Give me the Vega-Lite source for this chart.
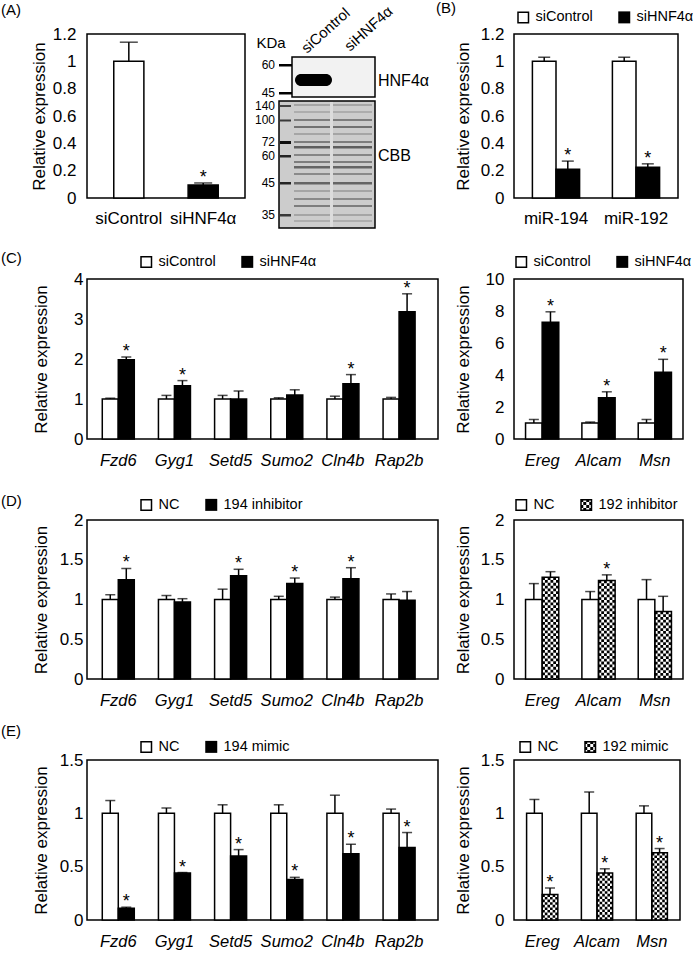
{
"$schema": "https://vega.github.io/schema/vega-lite/v6.json",
"background": "white",
"padding": {"left": 0, "top": 0, "right": 4, "bottom": 4},
"columns": 3,
"align": {"row": "each", "column": "each"},
"bounds": "flush",
"spacing": {"row": 81, "column": 34.5},
"resolve": {"scale": {"fill": "independent", "shape": "independent", "xOffset": "independent"}, "legend": {"fill": "independent", "shape": "independent"}},
"datasets": {
"a": [{"group":"siControl","mean":1,"hi":1.14,"sig":false},{"group":"siHNF4α","mean":0.095,"hi":0.11,"sig":true}],
"b": [{"gene":"miR-194","group":"siControl","mean":1,"hi":1.03,"sig":false},{"gene":"miR-194","group":"siHNF4α","mean":0.21,"hi":0.27,"sig":true},{"gene":"miR-192","group":"siControl","mean":1,"hi":1.03,"sig":false},{"gene":"miR-192","group":"siHNF4α","mean":0.225,"hi":0.25,"sig":true}],
"cL": [
{"gene":"Fzd6","group":"siControl","mean":1,"hi":1.02,"sig":false},{"gene":"Fzd6","group":"siHNF4α","mean":1.98,"hi":2.05,"sig":true},
{"gene":"Gyg1","group":"siControl","mean":1,"hi":1.09,"sig":false},{"gene":"Gyg1","group":"siHNF4α","mean":1.33,"hi":1.46,"sig":true},
{"gene":"Setd5","group":"siControl","mean":1,"hi":1.09,"sig":false},{"gene":"Setd5","group":"siHNF4α","mean":1.0,"hi":1.2,"sig":false},
{"gene":"Sumo2","group":"siControl","mean":1,"hi":1.03,"sig":false},{"gene":"Sumo2","group":"siHNF4α","mean":1.1,"hi":1.23,"sig":false},
{"gene":"Cln4b","group":"siControl","mean":1,"hi":1.07,"sig":false},{"gene":"Cln4b","group":"siHNF4α","mean":1.38,"hi":1.61,"sig":true},
{"gene":"Rap2b","group":"siControl","mean":1,"hi":1.04,"sig":false},{"gene":"Rap2b","group":"siHNF4α","mean":3.18,"hi":3.63,"sig":true}],
"cR": [
{"gene":"Ereg","group":"siControl","mean":1,"hi":1.22,"sig":false},{"gene":"Ereg","group":"siHNF4α","mean":7.3,"hi":7.95,"sig":true},
{"gene":"Alcam","group":"siControl","mean":1,"hi":1.06,"sig":false},{"gene":"Alcam","group":"siHNF4α","mean":2.58,"hi":2.95,"sig":true},
{"gene":"Msn","group":"siControl","mean":1,"hi":1.22,"sig":false},{"gene":"Msn","group":"siHNF4α","mean":4.17,"hi":4.98,"sig":true}],
"dL": [
{"gene":"Fzd6","group":"NC","mean":1,"hi":1.06,"sig":false},{"gene":"Fzd6","group":"194 inhibitor","mean":1.25,"hi":1.39,"sig":true},
{"gene":"Gyg1","group":"NC","mean":1,"hi":1.05,"sig":false},{"gene":"Gyg1","group":"194 inhibitor","mean":0.97,"hi":1.01,"sig":false},
{"gene":"Setd5","group":"NC","mean":1,"hi":1.13,"sig":false},{"gene":"Setd5","group":"194 inhibitor","mean":1.3,"hi":1.38,"sig":true},
{"gene":"Sumo2","group":"NC","mean":1,"hi":1.04,"sig":false},{"gene":"Sumo2","group":"194 inhibitor","mean":1.2,"hi":1.27,"sig":true},
{"gene":"Cln4b","group":"NC","mean":1,"hi":1.03,"sig":false},{"gene":"Cln4b","group":"194 inhibitor","mean":1.26,"hi":1.4,"sig":true},
{"gene":"Rap2b","group":"NC","mean":1,"hi":1.07,"sig":false},{"gene":"Rap2b","group":"194 inhibitor","mean":0.99,"hi":1.1,"sig":false}],
"dR": [
{"gene":"Ereg","group":"NC","mean":1,"hi":1.2,"sig":false},{"gene":"Ereg","group":"192 inhibitor","mean":1.28,"hi":1.35,"sig":false},
{"gene":"Alcam","group":"NC","mean":1,"hi":1.1,"sig":false},{"gene":"Alcam","group":"192 inhibitor","mean":1.24,"hi":1.31,"sig":true},
{"gene":"Msn","group":"NC","mean":1,"hi":1.25,"sig":false},{"gene":"Msn","group":"192 inhibitor","mean":0.85,"hi":1.04,"sig":false}],
"eL": [
{"gene":"Fzd6","group":"NC","mean":1,"hi":1.12,"sig":false},{"gene":"Fzd6","group":"194 mimic","mean":0.11,"hi":0.12,"sig":true},
{"gene":"Gyg1","group":"NC","mean":1,"hi":1.05,"sig":false},{"gene":"Gyg1","group":"194 mimic","mean":0.44,"hi":0.445,"sig":true},
{"gene":"Setd5","group":"NC","mean":1,"hi":1.08,"sig":false},{"gene":"Setd5","group":"194 mimic","mean":0.6,"hi":0.66,"sig":true},
{"gene":"Sumo2","group":"NC","mean":1,"hi":1.08,"sig":false},{"gene":"Sumo2","group":"194 mimic","mean":0.38,"hi":0.4,"sig":true},
{"gene":"Cln4b","group":"NC","mean":1,"hi":1.17,"sig":false},{"gene":"Cln4b","group":"194 mimic","mean":0.62,"hi":0.71,"sig":true},
{"gene":"Rap2b","group":"NC","mean":1,"hi":1.04,"sig":false},{"gene":"Rap2b","group":"194 mimic","mean":0.68,"hi":0.82,"sig":true}],
"eR": [
{"gene":"Ereg","group":"NC","mean":1,"hi":1.13,"sig":false},{"gene":"Ereg","group":"192 mimic","mean":0.24,"hi":0.3,"sig":true},
{"gene":"Alcam","group":"NC","mean":1,"hi":1.2,"sig":false},{"gene":"Alcam","group":"192 mimic","mean":0.44,"hi":0.48,"sig":true},
{"gene":"Msn","group":"NC","mean":1,"hi":1.07,"sig":false},{"gene":"Msn","group":"192 mimic","mean":0.63,"hi":0.67,"sig":true}],
"blotRects": [
{"x0":13,"x1":96,"y0":23,"y1":63,"v":0.0},
{"x0":0,"x1":96,"y0":67,"y1":194,"v":0.14},
{"x0":15,"x1":93,"y0":70.3,"y1":71.8,"v":0.34},
{"x0":15,"x1":93,"y0":77.3,"y1":78.8,"v":0.3},
{"x0":15,"x1":93,"y0":85,"y1":87,"v":0.45},
{"x0":15,"x1":93,"y0":92,"y1":94,"v":0.5},
{"x0":15,"x1":93,"y0":99.3,"y1":100.8,"v":0.34},
{"x0":15,"x1":93,"y0":107,"y1":109,"v":0.45},
{"x0":15,"x1":93,"y0":112,"y1":114.5,"v":0.58},
{"x0":15,"x1":93,"y0":120,"y1":122,"v":0.42},
{"x0":15,"x1":93,"y0":127,"y1":129,"v":0.45},
{"x0":15,"x1":93,"y0":132,"y1":134.5,"v":0.55},
{"x0":15,"x1":93,"y0":139,"y1":141,"v":0.4},
{"x0":15,"x1":93,"y0":148,"y1":150.5,"v":0.55},
{"x0":15,"x1":93,"y0":156.3,"y1":157.8,"v":0.34},
{"x0":15,"x1":93,"y0":164,"y1":166,"v":0.4},
{"x0":15,"x1":93,"y0":171,"y1":173,"v":0.45},
{"x0":15,"x1":93,"y0":180.3,"y1":181.8,"v":0.34},
{"x0":15,"x1":93,"y0":186.3,"y1":187.8,"v":0.3},
{"x0":51,"x1":54,"y0":67,"y1":194,"v":0.08},
{"x0":1,"x1":12,"y0":71,"y1":73,"v":0.7},
{"x0":1,"x1":12,"y0":85.5,"y1":87.5,"v":0.75},
{"x0":1,"x1":12,"y0":107,"y1":110,"v":0.95},
{"x0":1,"x1":12,"y0":121,"y1":123.5,"v":0.85},
{"x0":1,"x1":12,"y0":148,"y1":150.5,"v":0.85},
{"x0":1,"x1":12,"y0":180,"y1":182.5,"v":0.75},
{"x0":0,"x1":13,"y0":30,"y1":32.5,"v":1},
{"x0":0,"x1":13,"y0":58,"y1":60.5,"v":1}],
"blotBand": [{"x0":16,"x1":53,"y0":40,"y1":52}],
"blotFrames": [{"x0":13,"x1":96,"y0":23,"y1":63},{"x0":0,"x1":96,"y0":67,"y1":194}],
"markers": [{"kDa":"60","m":31,"lx":-4},{"kDa":"45","m":59,"lx":-4},{"kDa":"140","m":72,"lx":-4},{"kDa":"100","m":86,"lx":-4},{"kDa":"72","m":108,"lx":-4},{"kDa":"60","m":122,"lx":-4},{"kDa":"45","m":149,"lx":-4},{"kDa":"35","m":181,"lx":-4}],
"blotText": [{"label":"siControl","kind":"lane","lx":28,"ly":20},{"label":"siHNF4α","kind":"lane","lx":71,"ly":18},{"label":"HNF4α","kind":"side","lx":99,"ly":47},{"label":"CBB","kind":"side","lx":99,"ly":122},{"label":"KDa","kind":"unit","lx":-8,"ly":9}]
},
"concat": [
{
 "width": 158, "height": 164,
 "title": {"text": "(A)", "dx": -86, "dy": -3},
 "data": {"name": "a"},
 "layer": [
  {"mark": {"type": "bar", "stroke": "black", "strokeWidth": 1.5},
   "encoding": {
    "x": {"field": "group", "type": "nominal", "sort": null, "title": null, "scale": {"paddingInner": 0.595, "paddingOuter": 0.36}, "axis": {"labelAngle": 0, "labelPadding": 12, "labelFontSize": 17, "labelOverlap": false}},
    "y": {"field": "mean", "type": "quantitative", "title": "Relative expression", "scale": {"domain": [0, 1.2], "nice": false}, "axis": {"values": [0, 0.2, 0.4, 0.6, 0.8, 1, 1.2], "tickCount": 20, "format": "~g", "labelOverlap": false, "labelPadding": 11, "titleX": -48, "titleBaseline": "middle"}},
    "fill": {"field": "group", "type": "nominal", "sort": null, "scale": {"range": ["white", "black"]}, "legend": null}}},
  {"mark": {"type": "rule", "strokeWidth": 1.5, "color": "black"},
   "encoding": {"x": {"field": "group", "type": "nominal", "sort": null, "title": null}, "y": {"field": "mean", "type": "quantitative", "title": "Relative expression"}, "y2": {"field": "hi"}}},
  {"mark": {"type": "tick", "orient": "horizontal", "size": 18, "thickness": 1.5, "color": "black"},
   "encoding": {"x": {"field": "group", "type": "nominal", "sort": null, "title": null}, "y": {"field": "hi", "type": "quantitative", "title": "Relative expression"}}},
  {"transform": [{"filter": "datum.sig"}], "mark": {"type": "text", "text": "*", "fontSize": 18, "baseline": "alphabetic"},
   "encoding": {"x": {"field": "group", "type": "nominal", "sort": null, "title": null}, "y": {"field": "hi", "type": "quantitative", "title": "Relative expression"}}}
 ]
},
{
 "width": 7, "height": 164,
 "view": {"stroke": null},
 "layer": [
  {"data": {"name": "blotRects"}, "mark": {"type": "rect"},
   "encoding": {
    "x": {"field": "x0", "type": "quantitative", "scale": {"domain": [193.5, 200.5], "nice": false, "zero": false}, "axis": null}, "x2": {"field": "x1"},
    "y": {"field": "y0", "type": "quantitative", "scale": {"domain": [0, 164], "nice": false, "zero": false, "reverse": true}, "axis": null}, "y2": {"field": "y1"},
    "fill": {"field": "v", "type": "quantitative", "scale": {"domain": [0, 1], "range": ["#f2f2f2", "#000000"]}, "legend": null}}},
  {"data": {"name": "blotBand"}, "mark": {"type": "rect", "fill": "black", "cornerRadius": 6},
   "encoding": {"x": {"field": "x0", "type": "quantitative"}, "x2": {"field": "x1"}, "y": {"field": "y0", "type": "quantitative"}, "y2": {"field": "y1"}}},
  {"data": {"name": "blotFrames"}, "mark": {"type": "rect", "fillOpacity": 0, "stroke": "black", "strokeWidth": 1.5},
   "encoding": {"x": {"field": "x0", "type": "quantitative"}, "x2": {"field": "x1"}, "y": {"field": "y0", "type": "quantitative"}, "y2": {"field": "y1"}}},
  {"data": {"name": "markers"}, "mark": {"type": "text", "align": "right", "baseline": "middle", "fontSize": 12},
   "encoding": {"x": {"field": "lx", "type": "quantitative"}, "y": {"field": "m", "type": "quantitative"}, "text": {"field": "kDa"}}},
  {"data": {"name": "blotText"}, "transform": [{"filter": "datum.kind === 'lane'"}], "mark": {"type": "text", "align": "left", "baseline": "alphabetic", "angle": 318, "fontSize": 15},
   "encoding": {"x": {"field": "lx", "type": "quantitative"}, "y": {"field": "ly", "type": "quantitative"}, "text": {"field": "label"}}},
  {"data": {"name": "blotText"}, "transform": [{"filter": "datum.kind === 'side'"}], "mark": {"type": "text", "align": "left", "baseline": "middle", "fontSize": 16},
   "encoding": {"x": {"field": "lx", "type": "quantitative"}, "y": {"field": "ly", "type": "quantitative"}, "text": {"field": "label"}}},
  {"data": {"name": "blotText"}, "transform": [{"filter": "datum.kind === 'unit'"}], "mark": {"type": "text", "align": "center", "baseline": "middle", "fontSize": 15},
   "encoding": {"x": {"field": "lx", "type": "quantitative"}, "y": {"field": "ly", "type": "quantitative"}, "text": {"field": "label"}}}
 ]
},
{
 "width": 164, "height": 164,
 "title": {"text": "(B)", "dx": -78, "dy": 10},
 "data": {"name": "b"},
 "layer": [
  {"mark": {"type": "bar", "stroke": "black", "strokeWidth": 1.5},
   "encoding": {
    "x": {"field": "gene", "type": "nominal", "sort": null, "title": null, "scale": {"paddingInner": 0.41, "paddingOuter": 0.23}, "axis": {"labelAngle": 0, "labelPadding": 12, "labelFontSize": 17, "labelOverlap": false}},
    "xOffset": {"field": "group", "type": "nominal", "sort": null, "scale": {"paddingInner": 0, "paddingOuter": 0}},
    "y": {"field": "mean", "type": "quantitative", "title": "Relative expression", "scale": {"domain": [0, 1.2], "nice": false}, "axis": {"values": [0, 0.2, 0.4, 0.6, 0.8, 1, 1.2], "tickCount": 20, "format": "~g", "labelOverlap": false, "labelPadding": 10, "titleX": -51, "titleBaseline": "middle"}},
    "fill": {"field": "group", "type": "nominal", "sort": null, "scale": {"range": ["white", "black"]}, "legend": null}}},
  {"mark": {"type": "rule", "strokeWidth": 1.5, "color": "black"},
   "encoding": {"x": {"field": "gene", "type": "nominal", "sort": null, "title": null}, "xOffset": {"field": "group", "type": "nominal", "sort": null}, "y": {"field": "mean", "type": "quantitative", "title": "Relative expression"}, "y2": {"field": "hi"}}},
  {"mark": {"type": "tick", "orient": "horizontal", "size": 12, "thickness": 1.5, "color": "black"},
   "encoding": {"x": {"field": "gene", "type": "nominal", "sort": null, "title": null}, "xOffset": {"field": "group", "type": "nominal", "sort": null}, "y": {"field": "hi", "type": "quantitative", "title": "Relative expression"}}},
  {"transform": [{"filter": "datum.sig"}], "mark": {"type": "text", "text": "*", "fontSize": 18, "baseline": "alphabetic"},
   "encoding": {"x": {"field": "gene", "type": "nominal", "sort": null, "title": null}, "xOffset": {"field": "group", "type": "nominal", "sort": null}, "y": {"field": "hi", "type": "quantitative", "title": "Relative expression"}}},
  {"mark": {"type": "point", "size": 0, "filled": true, "color": "black"},
   "encoding": {"x": {"field": "gene", "type": "nominal", "sort": null, "title": null}, "xOffset": {"field": "group", "type": "nominal", "sort": null}, "y": {"field": "mean", "type": "quantitative", "title": "Relative expression"},
    "shape": {"field": "group", "type": "nominal", "sort": null, "scale": {"range": ["M-1,-1H1V1H-1Z M-0.75,-0.75V0.75H0.75V-0.75Z", "M-1,-1H1V1H-1Z"]}, "legend": {"title": null, "orient": "none", "direction": "horizontal", "legendX": 2, "legendY": -24, "columnPadding": 24}}}}
 ]
},
{
 "width": 351, "height": 160,
 "title": {"text": "(C)", "dx": -86, "dy": 15},
 "data": {"name": "cL"},
 "layer": [
  {"mark": {"type": "bar", "stroke": "black", "strokeWidth": 1.5},
   "encoding": {
    "x": {"field": "gene", "type": "nominal", "sort": null, "title": null, "scale": {"paddingInner": 0.43, "paddingOuter": 0.34, "align": 0.4}, "axis": {"labelAngle": 0, "labelPadding": 13, "labelFontStyle": "italic", "labelFontSize": 16.5, "labelOverlap": false}},
    "xOffset": {"field": "group", "type": "nominal", "sort": null, "scale": {"paddingInner": 0, "paddingOuter": 0}},
    "y": {"field": "mean", "type": "quantitative", "title": "Relative expression", "scale": {"domain": [0, 4], "nice": false}, "axis": {"values": [0, 1, 2, 3, 4], "tickCount": 20, "format": "~g", "labelOverlap": false, "labelPadding": 4, "titleX": -46, "titleBaseline": "middle"}},
    "fill": {"field": "group", "type": "nominal", "sort": null, "scale": {"range": ["white", "black"]}, "legend": null}}},
  {"mark": {"type": "rule", "strokeWidth": 1.5, "color": "black"},
   "encoding": {"x": {"field": "gene", "type": "nominal", "sort": null, "title": null}, "xOffset": {"field": "group", "type": "nominal", "sort": null}, "y": {"field": "mean", "type": "quantitative", "title": "Relative expression"}, "y2": {"field": "hi"}}},
  {"mark": {"type": "tick", "orient": "horizontal", "size": 10, "thickness": 1.5, "color": "black"},
   "encoding": {"x": {"field": "gene", "type": "nominal", "sort": null, "title": null}, "xOffset": {"field": "group", "type": "nominal", "sort": null}, "y": {"field": "hi", "type": "quantitative", "title": "Relative expression"}}},
  {"transform": [{"filter": "datum.sig"}], "mark": {"type": "text", "text": "*", "fontSize": 18, "baseline": "alphabetic"},
   "encoding": {"x": {"field": "gene", "type": "nominal", "sort": null, "title": null}, "xOffset": {"field": "group", "type": "nominal", "sort": null}, "y": {"field": "hi", "type": "quantitative", "title": "Relative expression"}}},
  {"mark": {"type": "point", "size": 0, "filled": true, "color": "black"},
   "encoding": {"x": {"field": "gene", "type": "nominal", "sort": null, "title": null}, "xOffset": {"field": "group", "type": "nominal", "sort": null}, "y": {"field": "mean", "type": "quantitative", "title": "Relative expression"},
    "shape": {"field": "group", "type": "nominal", "sort": null, "scale": {"range": ["M-1,-1H1V1H-1Z M-0.75,-0.75V0.75H0.75V-0.75Z", "M-1,-1H1V1H-1Z"]}, "legend": {"title": null, "orient": "none", "direction": "horizontal", "legendX": 52, "legendY": -24.5, "columnPadding": 24}}}}
 ]
},
{"width": 7, "height": 1, "view": {"stroke": null}, "data": {"values": [{"d": 0}]}, "mark": {"type": "point", "opacity": 0}, "encoding": {}},
{
 "width": 169, "height": 160,
 "data": {"name": "cR"},
 "layer": [
  {"mark": {"type": "bar", "stroke": "black", "strokeWidth": 1.5},
   "encoding": {
    "x": {"field": "gene", "type": "nominal", "sort": null, "title": null, "scale": {"paddingInner": 0.41, "paddingOuter": 0.205}, "axis": {"labelAngle": 0, "labelPadding": 13, "labelFontStyle": "italic", "labelFontSize": 16.5, "labelOverlap": false}},
    "xOffset": {"field": "group", "type": "nominal", "sort": null, "scale": {"paddingInner": 0, "paddingOuter": 0}},
    "y": {"field": "mean", "type": "quantitative", "title": "Relative expression", "scale": {"domain": [0, 10], "nice": false}, "axis": {"values": [0, 2, 4, 6, 8, 10], "tickCount": 20, "format": "~g", "labelOverlap": false, "labelPadding": 10, "titleX": -51, "titleBaseline": "middle"}},
    "fill": {"field": "group", "type": "nominal", "sort": null, "scale": {"range": ["white", "black"]}, "legend": null}}},
  {"mark": {"type": "rule", "strokeWidth": 1.5, "color": "black"},
   "encoding": {"x": {"field": "gene", "type": "nominal", "sort": null, "title": null}, "xOffset": {"field": "group", "type": "nominal", "sort": null}, "y": {"field": "mean", "type": "quantitative", "title": "Relative expression"}, "y2": {"field": "hi"}}},
  {"mark": {"type": "tick", "orient": "horizontal", "size": 10, "thickness": 1.5, "color": "black"},
   "encoding": {"x": {"field": "gene", "type": "nominal", "sort": null, "title": null}, "xOffset": {"field": "group", "type": "nominal", "sort": null}, "y": {"field": "hi", "type": "quantitative", "title": "Relative expression"}}},
  {"transform": [{"filter": "datum.sig"}], "mark": {"type": "text", "text": "*", "fontSize": 18, "baseline": "alphabetic"},
   "encoding": {"x": {"field": "gene", "type": "nominal", "sort": null, "title": null}, "xOffset": {"field": "group", "type": "nominal", "sort": null}, "y": {"field": "hi", "type": "quantitative", "title": "Relative expression"}}},
  {"mark": {"type": "point", "size": 0, "filled": true, "color": "black"},
   "encoding": {"x": {"field": "gene", "type": "nominal", "sort": null, "title": null}, "xOffset": {"field": "group", "type": "nominal", "sort": null}, "y": {"field": "mean", "type": "quantitative", "title": "Relative expression"},
    "shape": {"field": "group", "type": "nominal", "sort": null, "scale": {"range": ["M-1,-1H1V1H-1Z M-0.75,-0.75V0.75H0.75V-0.75Z", "M-1,-1H1V1H-1Z"]}, "legend": {"title": null, "orient": "none", "direction": "horizontal", "legendX": 0, "legendY": -24.5, "columnPadding": 24}}}}
 ]
},
{
 "width": 351, "height": 159,
 "title": {"text": "(D)", "dx": -86, "dy": 15},
 "data": {"name": "dL"},
 "layer": [
  {"mark": {"type": "bar", "stroke": "black", "strokeWidth": 1.5},
   "encoding": {
    "x": {"field": "gene", "type": "nominal", "sort": null, "title": null, "scale": {"paddingInner": 0.43, "paddingOuter": 0.34, "align": 0.4}, "axis": {"labelAngle": 0, "labelPadding": 13, "labelFontStyle": "italic", "labelFontSize": 16.5, "labelOverlap": false}},
    "xOffset": {"field": "group", "type": "nominal", "sort": null, "scale": {"paddingInner": 0, "paddingOuter": 0}},
    "y": {"field": "mean", "type": "quantitative", "title": "Relative expression", "scale": {"domain": [0, 2], "nice": false}, "axis": {"values": [0, 0.5, 1, 1.5, 2], "tickCount": 20, "format": "~g", "labelOverlap": false, "labelPadding": 4, "titleX": -46, "titleBaseline": "middle"}},
    "fill": {"field": "group", "type": "nominal", "sort": null, "scale": {"range": ["white", "black"]}, "legend": null}}},
  {"mark": {"type": "rule", "strokeWidth": 1.5, "color": "black"},
   "encoding": {"x": {"field": "gene", "type": "nominal", "sort": null, "title": null}, "xOffset": {"field": "group", "type": "nominal", "sort": null}, "y": {"field": "mean", "type": "quantitative", "title": "Relative expression"}, "y2": {"field": "hi"}}},
  {"mark": {"type": "tick", "orient": "horizontal", "size": 10, "thickness": 1.5, "color": "black"},
   "encoding": {"x": {"field": "gene", "type": "nominal", "sort": null, "title": null}, "xOffset": {"field": "group", "type": "nominal", "sort": null}, "y": {"field": "hi", "type": "quantitative", "title": "Relative expression"}}},
  {"transform": [{"filter": "datum.sig"}], "mark": {"type": "text", "text": "*", "fontSize": 18, "baseline": "alphabetic"},
   "encoding": {"x": {"field": "gene", "type": "nominal", "sort": null, "title": null}, "xOffset": {"field": "group", "type": "nominal", "sort": null}, "y": {"field": "hi", "type": "quantitative", "title": "Relative expression"}}},
  {"mark": {"type": "point", "size": 0, "filled": true, "color": "black"},
   "encoding": {"x": {"field": "gene", "type": "nominal", "sort": null, "title": null}, "xOffset": {"field": "group", "type": "nominal", "sort": null}, "y": {"field": "mean", "type": "quantitative", "title": "Relative expression"},
    "shape": {"field": "group", "type": "nominal", "sort": null, "scale": {"range": ["M-1,-1H1V1H-1Z M-0.75,-0.75V0.75H0.75V-0.75Z", "M-1,-1H1V1H-1Z"]}, "legend": {"title": null, "orient": "none", "direction": "horizontal", "legendX": 52, "legendY": -22.5, "columnPadding": 24}}}}
 ]
},
{"width": 7, "height": 1, "view": {"stroke": null}, "data": {"values": [{"d": 0}]}, "mark": {"type": "point", "opacity": 0}, "encoding": {}},
{
 "width": 169, "height": 159,
 "data": {"name": "dR"},
 "layer": [
  {"mark": {"type": "bar", "fill": "white", "strokeWidth": 0},
   "encoding": {
    "x": {"field": "gene", "type": "nominal", "sort": null, "title": null, "scale": {"paddingInner": 0.41, "paddingOuter": 0.205}, "axis": {"labelAngle": 0, "labelPadding": 13, "labelFontStyle": "italic", "labelFontSize": 16.5, "labelOverlap": false}},
    "xOffset": {"field": "group", "type": "nominal", "sort": null, "scale": {"paddingInner": 0, "paddingOuter": 0}},
    "y": {"field": "mean", "type": "quantitative", "title": "Relative expression", "scale": {"domain": [0, 2], "nice": false}, "axis": {"values": [0, 0.5, 1, 1.5, 2], "tickCount": 20, "format": "~g", "labelOverlap": false, "labelPadding": 10, "titleX": -51, "titleBaseline": "middle"}}}},
  {"transform": [{"filter": "datum.group !== 'NC'"}], "mark": {"type": "rule", "strokeWidth": 2.8, "strokeDash": [2.8, 2.8], "strokeDashOffset": 0, "color": "black"},
   "encoding": {"x": {"field": "gene", "type": "nominal", "sort": null, "title": null, "bandPosition": 0.5417}, "y": {"field": "mean", "type": "quantitative", "title": "Relative expression"}, "y2": {"datum": 0}}},
  {"transform": [{"filter": "datum.group !== 'NC'"}], "mark": {"type": "rule", "strokeWidth": 2.8, "strokeDash": [2.8, 2.8], "strokeDashOffset": 2.8, "color": "black"},
   "encoding": {"x": {"field": "gene", "type": "nominal", "sort": null, "title": null, "bandPosition": 0.625}, "y": {"field": "mean", "type": "quantitative", "title": "Relative expression"}, "y2": {"datum": 0}}},
  {"transform": [{"filter": "datum.group !== 'NC'"}], "mark": {"type": "rule", "strokeWidth": 2.8, "strokeDash": [2.8, 2.8], "strokeDashOffset": 0, "color": "black"},
   "encoding": {"x": {"field": "gene", "type": "nominal", "sort": null, "title": null, "bandPosition": 0.7083}, "y": {"field": "mean", "type": "quantitative", "title": "Relative expression"}, "y2": {"datum": 0}}},
  {"transform": [{"filter": "datum.group !== 'NC'"}], "mark": {"type": "rule", "strokeWidth": 2.8, "strokeDash": [2.8, 2.8], "strokeDashOffset": 2.8, "color": "black"},
   "encoding": {"x": {"field": "gene", "type": "nominal", "sort": null, "title": null, "bandPosition": 0.7917}, "y": {"field": "mean", "type": "quantitative", "title": "Relative expression"}, "y2": {"datum": 0}}},
  {"transform": [{"filter": "datum.group !== 'NC'"}], "mark": {"type": "rule", "strokeWidth": 2.8, "strokeDash": [2.8, 2.8], "strokeDashOffset": 0, "color": "black"},
   "encoding": {"x": {"field": "gene", "type": "nominal", "sort": null, "title": null, "bandPosition": 0.875}, "y": {"field": "mean", "type": "quantitative", "title": "Relative expression"}, "y2": {"datum": 0}}},
  {"transform": [{"filter": "datum.group !== 'NC'"}], "mark": {"type": "rule", "strokeWidth": 2.8, "strokeDash": [2.8, 2.8], "strokeDashOffset": 2.8, "color": "black"},
   "encoding": {"x": {"field": "gene", "type": "nominal", "sort": null, "title": null, "bandPosition": 0.9583}, "y": {"field": "mean", "type": "quantitative", "title": "Relative expression"}, "y2": {"datum": 0}}},
  {"mark": {"type": "bar", "fillOpacity": 0, "stroke": "black", "strokeWidth": 1.5},
   "encoding": {"x": {"field": "gene", "type": "nominal", "sort": null, "title": null}, "xOffset": {"field": "group", "type": "nominal", "sort": null}, "y": {"field": "mean", "type": "quantitative", "title": "Relative expression"}}},
  {"mark": {"type": "rule", "strokeWidth": 1.5, "color": "black"},
   "encoding": {"x": {"field": "gene", "type": "nominal", "sort": null, "title": null}, "xOffset": {"field": "group", "type": "nominal", "sort": null}, "y": {"field": "mean", "type": "quantitative", "title": "Relative expression"}, "y2": {"field": "hi"}}},
  {"mark": {"type": "tick", "orient": "horizontal", "size": 10, "thickness": 1.5, "color": "black"},
   "encoding": {"x": {"field": "gene", "type": "nominal", "sort": null, "title": null}, "xOffset": {"field": "group", "type": "nominal", "sort": null}, "y": {"field": "hi", "type": "quantitative", "title": "Relative expression"}}},
  {"transform": [{"filter": "datum.sig"}], "mark": {"type": "text", "text": "*", "fontSize": 18, "baseline": "alphabetic"},
   "encoding": {"x": {"field": "gene", "type": "nominal", "sort": null, "title": null}, "xOffset": {"field": "group", "type": "nominal", "sort": null}, "y": {"field": "hi", "type": "quantitative", "title": "Relative expression"}}},
  {"mark": {"type": "point", "size": 0, "filled": true, "color": "black"},
   "encoding": {"x": {"field": "gene", "type": "nominal", "sort": null, "title": null}, "xOffset": {"field": "group", "type": "nominal", "sort": null}, "y": {"field": "mean", "type": "quantitative", "title": "Relative expression"},
    "shape": {"field": "group", "type": "nominal", "sort": null, "scale": {"range": ["M-1,-1H1V1H-1Z M-0.75,-0.75V0.75H0.75V-0.75Z", "M-1,-1H1V1H-1Z M-0.75,-0.75V0.75H0.75V-0.75Z M-1,-1h0.5v0.5h-0.5z M0,-1h0.5v0.5h-0.5z M-0.5,-0.5h0.5v0.5h-0.5z M0.5,-0.5h0.5v0.5h-0.5z M-1,0h0.5v0.5h-0.5z M0,0h0.5v0.5h-0.5z M-0.5,0.5h0.5v0.5h-0.5z M0.5,0.5h0.5v0.5h-0.5z"]}, "legend": {"title": null, "orient": "none", "direction": "horizontal", "legendX": 0, "legendY": -22.5, "columnPadding": 24}}}}
 ]
},
{
 "width": 351, "height": 160,
 "title": {"text": "(E)", "dx": -86, "dy": 3},
 "data": {"name": "eL"},
 "layer": [
  {"mark": {"type": "bar", "stroke": "black", "strokeWidth": 1.5},
   "encoding": {
    "x": {"field": "gene", "type": "nominal", "sort": null, "title": null, "scale": {"paddingInner": 0.43, "paddingOuter": 0.34, "align": 0.4}, "axis": {"labelAngle": 0, "labelPadding": 13, "labelFontStyle": "italic", "labelFontSize": 16.5, "labelOverlap": false}},
    "xOffset": {"field": "group", "type": "nominal", "sort": null, "scale": {"paddingInner": 0, "paddingOuter": 0}},
    "y": {"field": "mean", "type": "quantitative", "title": "Relative expression", "scale": {"domain": [0, 1.5], "nice": false}, "axis": {"values": [0, 0.5, 1, 1.5], "tickCount": 20, "format": "~g", "labelOverlap": false, "labelPadding": 4, "titleX": -46, "titleBaseline": "middle"}},
    "fill": {"field": "group", "type": "nominal", "sort": null, "scale": {"range": ["white", "black"]}, "legend": null}}},
  {"mark": {"type": "rule", "strokeWidth": 1.5, "color": "black"},
   "encoding": {"x": {"field": "gene", "type": "nominal", "sort": null, "title": null}, "xOffset": {"field": "group", "type": "nominal", "sort": null}, "y": {"field": "mean", "type": "quantitative", "title": "Relative expression"}, "y2": {"field": "hi"}}},
  {"mark": {"type": "tick", "orient": "horizontal", "size": 10, "thickness": 1.5, "color": "black"},
   "encoding": {"x": {"field": "gene", "type": "nominal", "sort": null, "title": null}, "xOffset": {"field": "group", "type": "nominal", "sort": null}, "y": {"field": "hi", "type": "quantitative", "title": "Relative expression"}}},
  {"transform": [{"filter": "datum.sig"}], "mark": {"type": "text", "text": "*", "fontSize": 18, "baseline": "alphabetic"},
   "encoding": {"x": {"field": "gene", "type": "nominal", "sort": null, "title": null}, "xOffset": {"field": "group", "type": "nominal", "sort": null}, "y": {"field": "hi", "type": "quantitative", "title": "Relative expression"}}},
  {"mark": {"type": "point", "size": 0, "filled": true, "color": "black"},
   "encoding": {"x": {"field": "gene", "type": "nominal", "sort": null, "title": null}, "xOffset": {"field": "group", "type": "nominal", "sort": null}, "y": {"field": "mean", "type": "quantitative", "title": "Relative expression"},
    "shape": {"field": "group", "type": "nominal", "sort": null, "scale": {"range": ["M-1,-1H1V1H-1Z M-0.75,-0.75V0.75H0.75V-0.75Z", "M-1,-1H1V1H-1Z"]}, "legend": {"title": null, "orient": "none", "direction": "horizontal", "legendX": 52, "legendY": -20.5, "columnPadding": 24}}}}
 ]
},
{"width": 7, "height": 1, "view": {"stroke": null}, "data": {"values": [{"d": 0}]}, "mark": {"type": "point", "opacity": 0}, "encoding": {}},
{
 "width": 166, "height": 160,
 "data": {"name": "eR"},
 "layer": [
  {"mark": {"type": "bar", "fill": "white", "strokeWidth": 0},
   "encoding": {
    "x": {"field": "gene", "type": "nominal", "sort": null, "title": null, "scale": {"paddingInner": 0.43, "paddingOuter": 0.23}, "axis": {"labelAngle": 0, "labelPadding": 13, "labelFontStyle": "italic", "labelFontSize": 16.5, "labelOverlap": false}},
    "xOffset": {"field": "group", "type": "nominal", "sort": null, "scale": {"paddingInner": 0, "paddingOuter": 0}},
    "y": {"field": "mean", "type": "quantitative", "title": "Relative expression", "scale": {"domain": [0, 1.5], "nice": false}, "axis": {"values": [0, 0.5, 1, 1.5], "tickCount": 20, "format": "~g", "labelOverlap": false, "labelPadding": 10, "titleX": -51, "titleBaseline": "middle"}}}},
  {"transform": [{"filter": "datum.group !== 'NC'"}], "mark": {"type": "rule", "strokeWidth": 2.6, "strokeDash": [2.6, 2.6], "strokeDashOffset": 0, "color": "black"},
   "encoding": {"x": {"field": "gene", "type": "nominal", "sort": null, "title": null, "bandPosition": 0.5417}, "y": {"field": "mean", "type": "quantitative", "title": "Relative expression"}, "y2": {"datum": 0}}},
  {"transform": [{"filter": "datum.group !== 'NC'"}], "mark": {"type": "rule", "strokeWidth": 2.6, "strokeDash": [2.6, 2.6], "strokeDashOffset": 2.6, "color": "black"},
   "encoding": {"x": {"field": "gene", "type": "nominal", "sort": null, "title": null, "bandPosition": 0.625}, "y": {"field": "mean", "type": "quantitative", "title": "Relative expression"}, "y2": {"datum": 0}}},
  {"transform": [{"filter": "datum.group !== 'NC'"}], "mark": {"type": "rule", "strokeWidth": 2.6, "strokeDash": [2.6, 2.6], "strokeDashOffset": 0, "color": "black"},
   "encoding": {"x": {"field": "gene", "type": "nominal", "sort": null, "title": null, "bandPosition": 0.7083}, "y": {"field": "mean", "type": "quantitative", "title": "Relative expression"}, "y2": {"datum": 0}}},
  {"transform": [{"filter": "datum.group !== 'NC'"}], "mark": {"type": "rule", "strokeWidth": 2.6, "strokeDash": [2.6, 2.6], "strokeDashOffset": 2.6, "color": "black"},
   "encoding": {"x": {"field": "gene", "type": "nominal", "sort": null, "title": null, "bandPosition": 0.7917}, "y": {"field": "mean", "type": "quantitative", "title": "Relative expression"}, "y2": {"datum": 0}}},
  {"transform": [{"filter": "datum.group !== 'NC'"}], "mark": {"type": "rule", "strokeWidth": 2.6, "strokeDash": [2.6, 2.6], "strokeDashOffset": 0, "color": "black"},
   "encoding": {"x": {"field": "gene", "type": "nominal", "sort": null, "title": null, "bandPosition": 0.875}, "y": {"field": "mean", "type": "quantitative", "title": "Relative expression"}, "y2": {"datum": 0}}},
  {"transform": [{"filter": "datum.group !== 'NC'"}], "mark": {"type": "rule", "strokeWidth": 2.6, "strokeDash": [2.6, 2.6], "strokeDashOffset": 2.6, "color": "black"},
   "encoding": {"x": {"field": "gene", "type": "nominal", "sort": null, "title": null, "bandPosition": 0.9583}, "y": {"field": "mean", "type": "quantitative", "title": "Relative expression"}, "y2": {"datum": 0}}},
  {"mark": {"type": "bar", "fillOpacity": 0, "stroke": "black", "strokeWidth": 1.5},
   "encoding": {"x": {"field": "gene", "type": "nominal", "sort": null, "title": null}, "xOffset": {"field": "group", "type": "nominal", "sort": null}, "y": {"field": "mean", "type": "quantitative", "title": "Relative expression"}}},
  {"mark": {"type": "rule", "strokeWidth": 1.5, "color": "black"},
   "encoding": {"x": {"field": "gene", "type": "nominal", "sort": null, "title": null}, "xOffset": {"field": "group", "type": "nominal", "sort": null}, "y": {"field": "mean", "type": "quantitative", "title": "Relative expression"}, "y2": {"field": "hi"}}},
  {"mark": {"type": "tick", "orient": "horizontal", "size": 10, "thickness": 1.5, "color": "black"},
   "encoding": {"x": {"field": "gene", "type": "nominal", "sort": null, "title": null}, "xOffset": {"field": "group", "type": "nominal", "sort": null}, "y": {"field": "hi", "type": "quantitative", "title": "Relative expression"}}},
  {"transform": [{"filter": "datum.sig"}], "mark": {"type": "text", "text": "*", "fontSize": 18, "baseline": "alphabetic"},
   "encoding": {"x": {"field": "gene", "type": "nominal", "sort": null, "title": null}, "xOffset": {"field": "group", "type": "nominal", "sort": null}, "y": {"field": "hi", "type": "quantitative", "title": "Relative expression"}}},
  {"mark": {"type": "point", "size": 0, "filled": true, "color": "black"},
   "encoding": {"x": {"field": "gene", "type": "nominal", "sort": null, "title": null}, "xOffset": {"field": "group", "type": "nominal", "sort": null}, "y": {"field": "mean", "type": "quantitative", "title": "Relative expression"},
    "shape": {"field": "group", "type": "nominal", "sort": null, "scale": {"range": ["M-1,-1H1V1H-1Z M-0.75,-0.75V0.75H0.75V-0.75Z", "M-1,-1H1V1H-1Z M-0.75,-0.75V0.75H0.75V-0.75Z M-1,-1h0.5v0.5h-0.5z M0,-1h0.5v0.5h-0.5z M-0.5,-0.5h0.5v0.5h-0.5z M0.5,-0.5h0.5v0.5h-0.5z M-1,0h0.5v0.5h-0.5z M0,0h0.5v0.5h-0.5z M-0.5,0.5h0.5v0.5h-0.5z M0.5,0.5h0.5v0.5h-0.5z"]}, "legend": {"title": null, "orient": "none", "direction": "horizontal", "legendX": 4, "legendY": -20.5, "columnPadding": 24}}}}
 ]
}
],
"config": {
 "font": "Liberation Sans",
 "view": {"stroke": "black", "strokeWidth": 1.5},
 "axis": {"labelColor": "black", "labelFont": "Liberation Sans", "labelFontSize": 17, "labelOverlap": false, "ticks": false, "tickSize": 0, "domain": false, "grid": false, "titleFont": "Liberation Sans", "titleFontSize": 17, "titleFontWeight": "normal", "titleColor": "black"},
 "legend": {"padding": 0, "labelFont": "Liberation Sans", "labelFontSize": 14.5, "labelColor": "black", "labelOffset": 5, "symbolSize": 144, "symbolStrokeWidth": 0, "symbolFillColor": "black", "symbolOpacity": 1},
 "title": {"anchor": "start", "frame": "group", "offset": 0, "baseline": "bottom", "fontSize": 15, "fontWeight": "normal", "font": "Liberation Sans", "color": "black"},
 "text": {"font": "Liberation Sans", "color": "black"}
}
}
